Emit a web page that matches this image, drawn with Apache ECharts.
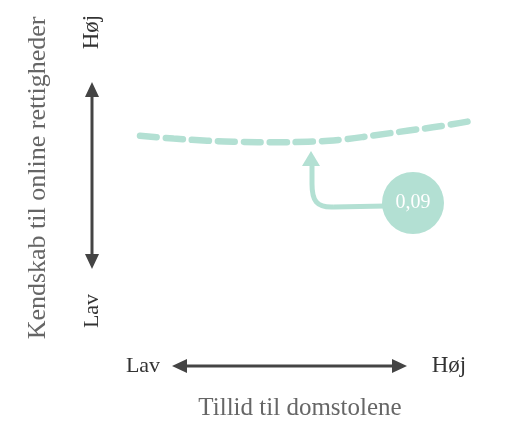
<!DOCTYPE html>
<html>
<head>
<meta charset="utf-8">
<script src="https://cdn.jsdelivr.net/npm/echarts@6/dist/echarts.min.js"></script>
<style>
  html, body { margin: 0; padding: 0; background: #fff; }
  #chart { width: 514px; height: 422px; }
</style>
</head>
<body>
<div id="chart"></div>
<script>
// tillid til domstolene (0 = lav, 1 = høj) og kendskab (0 = lav, 1 = høj)
var tillid = [0, 0.1, 0.2, 0.3, 0.4, 0.5, 0.6, 0.7, 0.8, 0.9, 1];
var kendskab = [0.715, 0.700, 0.688, 0.682, 0.680, 0.683, 0.694, 0.718, 0.743, 0.768, 0.800];
var effekt = '0,09';
var axisLabels = ['Lav', 'Høj'];
var xTitle = 'Tillid til domstolene';
var yTitle = 'Kendskab til online rettigheder';

var teal = '#b3e0d3';
var dark = '#444';
var font = '"Liberation Serif", "DejaVu Serif", serif';

var points = tillid.map(function (t, i) { return [t, kendskab[i]]; });

var chart = echarts.init(document.getElementById('chart'));
var option = {
    animation: false,
    grid: { left: 140, right: 38, top: 83, bottom: 154 },
    xAxis: { type: 'value', min: 0, max: 1, show: false },
    yAxis: { type: 'value', min: 0, max: 1, show: false },
    series: [
        {
            type: 'line',
            data: points,
            smooth: true,
            showSymbol: false,
            lineStyle: { color: teal, width: 6.5, type: [17, 9], cap: 'round' }
        }
    ],
    graphic: [
        // y-pil
        { type: 'line', shape: { x1: 92, y1: 95, x2: 92, y2: 256 }, style: { stroke: dark, lineWidth: 3 } },
        { type: 'polygon', shape: { points: [[92, 82], [85, 97], [99, 97]] }, style: { fill: dark } },
        { type: 'polygon', shape: { points: [[92, 269], [85, 254], [99, 254]] }, style: { fill: dark } },
        // x-pil
        { type: 'line', shape: { x1: 184, y1: 366, x2: 394, y2: 366 }, style: { stroke: dark, lineWidth: 3 } },
        { type: 'polygon', shape: { points: [[172, 366], [187, 359], [187, 373]] }, style: { fill: dark } },
        { type: 'polygon', shape: { points: [[407, 366], [392, 359], [392, 373]] }, style: { fill: dark } },
        // etiketter
        { type: 'text', x: 92, y: 311, rotation: Math.PI / 2, style: { text: axisLabels[0], font: '22px ' + font, fill: '#333', align: 'center', verticalAlign: 'middle' } },
        { type: 'text', x: 92, y: 32, rotation: Math.PI / 2, style: { text: axisLabels[1], font: '23px ' + font, fill: '#333', align: 'center', verticalAlign: 'middle' } },
        { type: 'text', x: 143, y: 366, style: { text: axisLabels[0], font: '22px ' + font, fill: '#333', align: 'center', verticalAlign: 'middle' } },
        { type: 'text', x: 449, y: 366, style: { text: axisLabels[1], font: '23px ' + font, fill: '#333', align: 'center', verticalAlign: 'middle' } },
        { type: 'text', x: 300, y: 408, style: { text: xTitle, font: '25px ' + font, fill: '#666', align: 'center', verticalAlign: 'middle' } },
        { type: 'text', x: 38, y: 178, rotation: Math.PI / 2, style: { text: yTitle, font: '26px ' + font, fill: '#666', align: 'center', verticalAlign: 'middle' } },
        // annotering
        { type: 'line', shape: { x1: 386, y1: 206, x2: 334, y2: 207 }, style: { stroke: teal, lineWidth: 5 } },
        { type: 'bezierCurve', shape: { x1: 334, y1: 207, cpx1: 316, cpy1: 208, cpx2: 312, cpy2: 200, x2: 312, y2: 184 }, style: { stroke: teal, lineWidth: 5, fill: null } },
        { type: 'line', shape: { x1: 312, y1: 184, x2: 312, y2: 164 }, style: { stroke: teal, lineWidth: 5 } },
        { type: 'polygon', shape: { points: [[311, 151], [302, 166], [320, 166]] }, style: { fill: teal } },
        { type: 'circle', shape: { cx: 413, cy: 203, r: 31 }, style: { fill: teal } },
        { type: 'text', x: 413, y: 203, style: { text: effekt, font: '20px ' + font, fill: '#fff', align: 'center', verticalAlign: 'middle' } }
    ]
};
chart.setOption(option);
</script>
</body>
</html>
